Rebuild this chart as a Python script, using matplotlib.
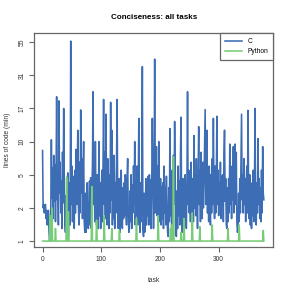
import matplotlib
matplotlib.use("Agg")
import matplotlib.pyplot as plt
import numpy as np

plt.rcParams['font.family'] = ['Liberation Sans', 'DejaVu Sans']

# lines of code (min) per task
c_loc = [
    8.3, 2.0, 2.2, 1.8, 2.1, 2.2, 1.6, 1.9, 1.4, 1.7, 1.9, 1.2, 1.0, 1.3, 1.9, 10.3, 2.6, 5.8, 1.6, 7.5,
    2.4, 6.2, 1.5, 4.5, 21.0, 2.5, 5.0, 1.4, 19.5, 3.0, 6.5, 1.8, 4.2, 1.3, 8.0, 2.3, 17.0, 3.8, 1.5, 1.2,
    2.8, 1.2, 3.5, 5.2, 1.1, 2.6, 4.0, 1.4, 56.0, 2.2, 6.0, 1.5, 4.8, 2.5, 1.3, 5.5, 1.8, 8.5, 2.2, 4.4,
    12.0, 2.2, 1.4, 6.5, 1.8, 16.6, 3.0, 7.0, 1.6, 5.5, 10.0, 1.5, 1.2, 3.0, 1.2, 1.4, 4.0, 1.6, 1.3, 1.8,
    4.2, 1.4, 4.6, 1.3, 3.3, 6.0, 23.0, 2.2, 4.5, 1.5, 10.0, 2.5, 1.4, 5.0, 1.8, 1.3, 10.0, 1.7, 4.0, 1.3,
    3.0, 5.5, 1.5, 6.0, 20.0, 2.2, 8.0, 1.6, 15.5, 3.0, 1.4, 7.0, 2.2, 1.3, 5.0, 1.8, 19.0, 2.5, 12.0, 1.4,
    5.0, 1.6, 7.5, 1.3, 4.0, 1.8, 6.0, 20.0, 2.2, 1.3, 4.5, 1.7, 1.2, 3.0, 5.5, 1.5, 1.3, 3.5, 1.6, 4.0,
    1.7, 5.0, 2.2, 1.4, 4.5, 7.0, 1.7, 1.2, 1.3, 3.2, 1.5, 5.0, 1.3, 3.8, 1.8, 6.0, 2.2, 10.0, 1.4, 4.2,
    1.7, 6.0, 1.4, 3.5, 14.5, 1.6, 1.2, 4.0, 1.5, 5.0, 36.0, 1.3, 1.1, 3.0, 1.2, 1.6, 4.5, 1.4, 3.5, 1.7,
    4.8, 1.4, 5.0, 2.2, 4.3, 1.3, 4.0, 14.5, 4.5, 1.3, 3.0, 41.0, 1.8, 3.8, 9.0, 1.7, 6.0, 1.3, 10.0, 2.2,
    1.5, 4.5, 1.4, 3.6, 1.6, 4.0, 1.3, 6.0, 1.8, 3.5, 1.4, 4.8, 2.0, 1.2, 1.1, 3.5, 1.5, 12.3, 1.7, 4.0,
    1.2, 5.5, 1.5, 7.5, 2.2, 13.8, 4.5, 1.2, 1.1, 3.2, 1.3, 6.0, 1.7, 4.2, 1.4, 8.0, 14.8, 1.5, 1.2, 4.5,
    1.8, 1.2, 3.8, 5.0, 1.6, 1.3, 4.0, 23.0, 2.2, 5.5, 1.8, 4.2, 1.5, 6.5, 2.2, 1.3, 4.5, 1.5, 11.0, 2.0,
    5.0, 1.7, 7.0, 2.4, 1.3, 4.5, 12.7, 2.2, 5.5, 1.5, 8.0, 2.5, 1.6, 6.5, 2.0, 4.0, 9.0, 16.7, 2.2, 5.0,
    12.0, 1.8, 4.8, 1.5, 6.0, 2.5, 1.4, 5.0, 1.8, 7.0, 2.2, 14.5, 3.0, 1.6, 6.0, 1.8, 4.5, 15.0, 2.2, 5.5,
    1.7, 4.0, 2.2, 6.5, 1.6, 4.8, 2.2, 5.0, 1.5, 7.5, 12.0, 2.4, 4.5, 1.4, 1.3, 3.5, 1.5, 4.5, 1.8, 9.5,
    2.2, 5.0, 1.6, 6.0, 2.5, 9.0, 1.8, 4.0, 9.5, 2.2, 8.0, 1.5, 1.2, 1.3, 3.0, 1.5, 4.5, 1.8, 6.0, 15.5,
    2.5, 5.0, 1.8, 7.0, 2.2, 4.5, 1.5, 3.8, 6.0, 1.8, 16.5, 3.0, 1.6, 5.0, 1.4, 3.2, 1.3, 4.0, 1.7, 5.5,
    1.5, 3.5, 17.0, 1.8, 1.4, 4.0, 1.8, 10.5, 2.2, 4.5, 1.6, 3.5, 1.5, 5.5, 1.8, 9.0, 3.0, 2.5,
]

# python is 1 line almost everywhere, except these tasks
py_tasks = [13, 16, 22, 41, 44, 84, 92, 105, 118, 131, 160, 197, 218, 220, 223,
            236, 241, 255, 268, 289, 316, 335, 376]
py_vals = [1.7, 2.0, 1.3, 4.7, 1.85, 3.6, 1.55, 1.7, 1.3, 1.25, 1.6, 1.7, 1.3, 1.4, 7.3,
           1.2, 1.6, 1.8, 1.35, 1.4, 1.3, 1.4, 1.25]

y_ticks = [1, 2, 5, 10, 17, 31, 55]
x_ticks = [0, 100, 200, 300]

tasks = np.arange(len(c_loc))
py_loc = np.ones(len(c_loc))
py_loc[py_tasks] = py_vals

# y axis: tick values sit evenly spaced, log in between
lt = np.log(y_ticks)
pos = np.arange(len(y_ticks), dtype=float)


def fwd(v):
    l = np.log(np.clip(np.asarray(v, float), 1e-9, None))
    out = np.interp(l, lt, pos)
    out = np.where(l < lt[0], (l - lt[0]) / (lt[1] - lt[0]), out)
    out = np.where(l > lt[-1], pos[-1] + (l - lt[-1]) / (lt[-1] - lt[-2]), out)
    return out


def inv(p):
    p = np.asarray(p, float)
    l = np.interp(p, pos, lt)
    l = np.where(p < 0, lt[0] + p * (lt[1] - lt[0]), l)
    l = np.where(p > pos[-1], lt[-1] + (p - pos[-1]) * (lt[-1] - lt[-2]), l)
    return np.exp(l)


blue = '#3d6db5'
green = '#77cc77'
grey = '#666666'

fig = plt.figure(figsize=(2.91, 2.91), dpi=100)
ax = fig.add_axes([0.118, 0.150, 0.821, 0.736])

ax.plot(tasks, c_loc, color=blue, lw=1.15, label='C')
ax.plot(tasks, py_loc, color=green, lw=1.15, label='Python')

ax.set_yscale('function', functions=(fwd, inv))
ax.set_ylim(inv(-0.19), inv(6.27))
ax.set_yticks(y_ticks)
ax.set_yticklabels([str(t) for t in y_ticks], rotation=90, va='center')
ax.yaxis.set_minor_locator(matplotlib.ticker.NullLocator())
ax.set_xlim(-14, 393)
ax.set_xticks(x_ticks)

for s in ax.spines.values():
    s.set_color(grey)
    s.set_linewidth(0.9)
ax.tick_params(colors=grey, labelcolor='#333333', labelsize=4.8, length=3.5,
               width=0.8, pad=2.5)

ax.set_title('Conciseness: all tasks', fontsize=5.8, fontweight='bold', pad=10.5)
ax.set_xlabel('task', fontsize=4.8, color='#333333', labelpad=10)
ax.set_ylabel('lines of code (min)', fontsize=4.8, color='#333333', labelpad=6)

leg = ax.legend(loc='upper right', fontsize=4.8, fancybox=False, borderaxespad=0,
                handlelength=2.6, borderpad=0.7, labelspacing=0.5, framealpha=1)
leg.get_frame().set_edgecolor(grey)
leg.get_frame().set_linewidth(0.9)

fig.savefig('out.png', dpi=100)
